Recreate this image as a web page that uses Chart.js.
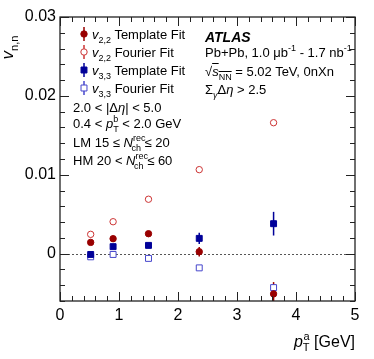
<!DOCTYPE html>
<html>
<head>
<meta charset="utf-8">
<script src="https://cdn.jsdelivr.net/npm/chart.js@4"></script>
<style>
  html, body { margin: 0; padding: 0; background: #fff; }
  #wrap { position: relative; width: 374px; height: 359px; font-family: "Liberation Sans", Arial, sans-serif; color: #000; }
  #wrap canvas { position: absolute; left: 0; top: 0; }
  .t { position: absolute; white-space: nowrap; font-size: 13px; line-height: 13px; }
  .t sub, .t sup { font-size: 9px; line-height: 0; }
  i { font-style: italic; }
</style>
</head>
<body>
<div id="wrap">
  <canvas id="c" width="374" height="359"></canvas>

  <div class="t" style="left:-4px; top:39px; font-size:17px; line-height:17px; transform:rotate(-90deg);"><i>v</i><sub style="font-size:11px">n,n</sub></div>
  <div class="t" style="right:19px; top:334px; font-size:16px; line-height:16px;"><i>p</i><sub style="font-size:11px; vertical-align:-4px; margin-right:-6px">T</sub><sup style="font-size:11px; vertical-align:7px">a</sup> [GeV]</div>

  <div class="t" style="left:92px; top:28px;"><i>v</i><sub>2,2</sub> Template Fit</div>
  <div class="t" style="left:92px; top:46px;"><i>v</i><sub>2,2</sub> Fourier Fit</div>
  <div class="t" style="left:92px; top:64px;"><i>v</i><sub>3,3</sub> Template Fit</div>
  <div class="t" style="left:92px; top:82px;"><i>v</i><sub>3,3</sub> Fourier Fit</div>

  <div class="t" style="left:73px; top:101px;">2.0 &lt; |&Delta;<i>&eta;</i>| &lt; 5.0</div>
  <div class="t" style="left:73px; top:117px;">0.4 &lt; <i>p</i><sup style="vertical-align:6px">b</sup><sub style="margin-left:-5px; vertical-align:-4px">T</sub> &lt; 2.0 GeV</div>
  <div class="t" style="left:73px; top:136px;">LM 15 &le; <i>N</i><sup style="vertical-align:6px">rec</sup><sub style="margin-left:-14px; vertical-align:-4px">ch</sub> &le; 20</div>
  <div class="t" style="left:73px; top:154px;">HM 20 &lt; <i>N</i><sup style="vertical-align:6px">rec</sup><sub style="margin-left:-14px; vertical-align:-4px">ch</sub> &le; 60</div>

  <div class="t" style="left:205px; top:30px; font-weight:bold; font-style:italic; font-size:14px; line-height:14px;">ATLAS</div>
  <div class="t" style="left:205px; top:46px;">Pb+Pb, 1.0 &mu;b<sup style="vertical-align:6px">-1</sup> - 1.7 nb<sup style="vertical-align:6px">-1</sup></div>
  <div class="t" style="left:205px; top:65px;">&radic;<span style="text-decoration:overline"><i>s</i><sub>NN</sub></span> = 5.02 TeV, 0nXn</div>
  <div class="t" style="left:205px; top:83px;">&Sigma;<sub><i>&gamma;</i></sub>&Delta;<i>&eta;</i> &gt; 2.5</div>
</div>

<script>
// pT^a bin centres [GeV]
const ptA = [0.52, 0.90, 1.50, 2.36, 3.62];

const v22Template = [0.00143, 0.0019, 0.00253, 0.00025, -0.0051];
const v22TemplateErr = [0.0002, 0.0002, 0.0003, 0.0006, 0.0015];
const v22Fourier = [0.00245, 0.00405, 0.0069, 0.01065, 0.0166];
const v22FourierErr = [0.0001, 0.0001, 0.0001, 0.0002, 0.0003];
const v33Template = [-0.0001, 0.00089, 0.00105, 0.00194, 0.0038];
const v33TemplateErr = [0.0002, 0.0002, 0.0003, 0.0007, 0.0015];
const v33Fourier = [-0.0004, -0.0001, -0.0006, -0.0018, -0.0043];
const v33FourierErr = [0.0001, 0.0001, 0.0001, 0.0002, 0.0003];

const xTicks = [0, 1, 2, 3, 4, 5];
const yTicks = [0, 0.01, 0.02, 0.03];

const RED = '#990000', RED_OPEN = '#cc3333';
const BLUE = '#000099', BLUE_OPEN = '#4646cc';

function pts(vals, errs) {
    return ptA.map((x, i) => ({ x: x, y: vals[i], err: errs[i] }));
}

const series = [
    { label: 'v22 Template Fit', data: pts(v22Template, v22TemplateErr), color: RED, style: 'circle', open: false },
    { label: 'v22 Fourier Fit', data: pts(v22Fourier, v22FourierErr), color: RED_OPEN, style: 'circle', open: true },
    { label: 'v33 Template Fit', data: pts(v33Template, v33TemplateErr), color: BLUE, style: 'rect', open: false },
    { label: 'v33 Fourier Fit', data: pts(v33Fourier, v33FourierErr), color: BLUE_OPEN, style: 'rect', open: true }
];

// error bars under the markers
const errorBars = {
    id: 'errorBars',
    beforeDatasetsDraw(chart) {
        const ctx = chart.ctx;
        const ys = chart.scales.y;
        const area = chart.chartArea;
        ctx.save();
        ctx.beginPath();
        ctx.rect(area.left, area.top, area.right - area.left, area.bottom - area.top);
        ctx.clip();
        chart.data.datasets.forEach((ds, di) => {
            const meta = chart.getDatasetMeta(di);
            ctx.strokeStyle = ds.borderColor;
            ctx.lineWidth = 1.5;
            meta.data.forEach((el, i) => {
                const p = ds.data[i];
                ctx.beginPath();
                ctx.moveTo(el.x, ys.getPixelForValue(p.y + p.err));
                ctx.lineTo(el.x, ys.getPixelForValue(p.y - p.err));
                ctx.stroke();
            });
        });
        ctx.restore();
    }
};

// frame, inward ticks, dashed zero line, legend markers
const frame = {
    id: 'frame',
    beforeDatasetsDraw(chart) {
        const ctx = chart.ctx;
        const { left, right } = chart.chartArea;
        const ys = chart.scales.y;
        ctx.save();
        ctx.strokeStyle = '#555';
        ctx.lineWidth = 1;
        ctx.setLineDash([2, 2]);
        const y0 = Math.round(ys.getPixelForValue(0)) + 0.5;
        ctx.beginPath();
        ctx.moveTo(left, y0);
        ctx.lineTo(right, y0);
        ctx.stroke();
        ctx.restore();
    },
    afterDraw(chart) {
        const ctx = chart.ctx;
        const { left, right, top, bottom } = chart.chartArea;
        const xs = chart.scales.x, ys = chart.scales.y;
        ctx.save();
        ctx.strokeStyle = '#222';
        ctx.lineWidth = 1.3;
        ctx.strokeRect(left, top, right - left, bottom - top);
        ctx.lineWidth = 1;
        ctx.beginPath();
        for (let k = 0; k <= 25; k++) {
            const v = k * 0.2;
            const len = k % 5 === 0 ? 9 : 5;
            const px = Math.round(xs.getPixelForValue(v)) + 0.5;
            ctx.moveTo(px, bottom); ctx.lineTo(px, bottom - len);
            ctx.moveTo(px, top); ctx.lineTo(px, top + len);
        }
        for (let k = -3; k <= 15; k++) {
            const v = k * 0.002;
            const len = k % 5 === 0 ? 9 : 5;
            const py = Math.round(ys.getPixelForValue(v)) + 0.5;
            ctx.moveTo(left, py); ctx.lineTo(left + len, py);
            ctx.moveTo(right, py); ctx.lineTo(right - len, py);
        }
        ctx.stroke();

        // legend markers
        const rows = [34, 52, 70, 88];
        chart.data.datasets.forEach((ds, i) => {
            const x = 84, y = rows[i];
            ctx.strokeStyle = ds.borderColor;
            ctx.lineWidth = 1.5;
            ctx.beginPath();
            ctx.moveTo(x, y - 7); ctx.lineTo(x, y + 7);
            ctx.stroke();
            ctx.fillStyle = ds.backgroundColor;
            ctx.lineWidth = ds.borderWidth;
            ctx.beginPath();
            if (ds.pointStyle === 'circle') {
                ctx.arc(x, y, ds.pointRadius, 0, Math.PI * 2);
            } else {
                const s = ds.pointRadius * Math.SQRT1_2;
                ctx.rect(x - s, y - s, 2 * s, 2 * s);
            }
            ctx.fill();
            ctx.stroke();
        });
        ctx.restore();
    }
};

new Chart(document.getElementById('c'), {
    type: 'scatter',
    data: {
        datasets: series.map(s => ({
            label: s.label,
            data: s.data,
            pointStyle: s.style,
            pointRadius: s.style === 'circle' ? 3.2 : 4.2,
            pointHoverRadius: s.style === 'circle' ? 3.2 : 4.2,
            borderWidth: 1,
            borderColor: s.color,
            backgroundColor: s.open ? '#ffffff' : s.color
        }))
    },
    options: {
        responsive: false,
        animation: false,
        layout: { padding: { top: 17, right: 19, left: 0, bottom: 0 } },
        plugins: { legend: { display: false }, tooltip: { enabled: false } },
        scales: {
            x: {
                type: 'linear', min: 0, max: 5,
                afterFit(s) { s.height = 58; },
                afterBuildTicks(s) { s.ticks = xTicks.map(v => ({ value: v })); },
                grid: { display: false, drawTicks: false },
                border: { display: false },
                ticks: {
                    padding: 5, color: '#000',
                    font: { family: 'Liberation Sans', size: 16 },
                    callback: v => String(v)
                }
            },
            y: {
                type: 'linear', min: -0.006, max: 0.03,
                afterFit(s) { s.width = 60; },
                afterBuildTicks(s) { s.ticks = yTicks.map(v => ({ value: v })); },
                grid: { display: false, drawTicks: false },
                border: { display: false },
                ticks: {
                    padding: 4, color: '#000',
                    font: { family: 'Liberation Sans', size: 16 },
                    callback: v => (v === 0 ? '0' : String(+v.toFixed(2)))
                }
            }
        }
    },
    plugins: [frame, errorBars]
});
</script>
</body>
</html>
